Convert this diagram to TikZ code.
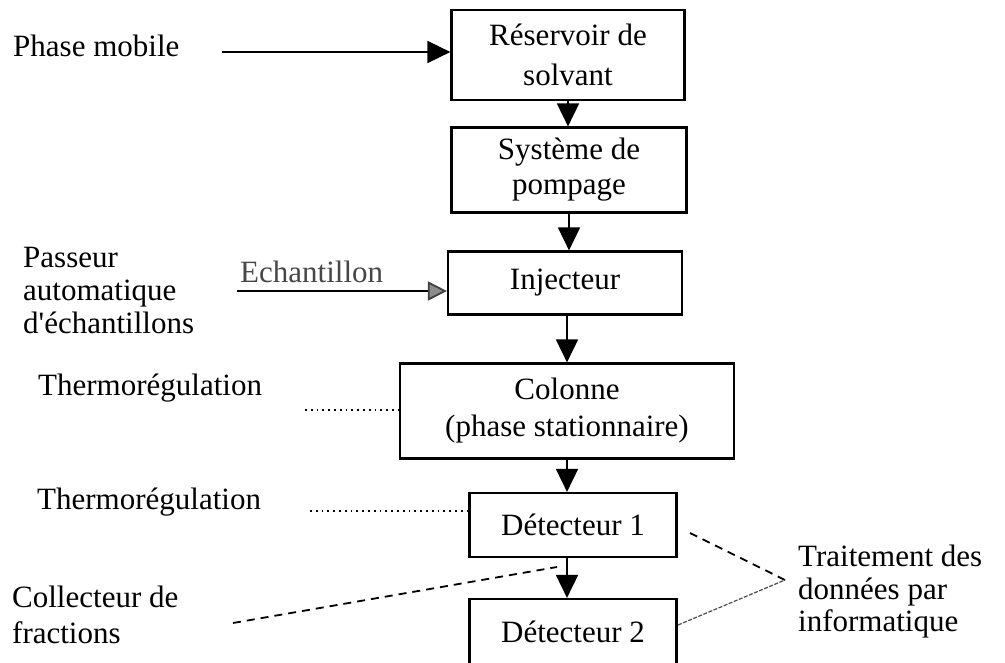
\documentclass[tikz,border=0pt]{standalone}
\usepackage{fontspec}
\setmainfont{Liberation Serif}[Ligatures=TeXOff]
\usetikzlibrary{arrows.meta}
\tikzset{
  every node/.style={font=\fontsize{31}{37}\selectfont, inner sep=0pt},
  box/.style={draw, line width=2.2pt, align=center},
  lbl/.style={anchor=west, align=left},
  arr/.style={line width=1.8pt, -{Triangle[length=23pt,width=22pt]}},
  grayarr/.style={line width=1.8pt, -{Triangle[length=19pt,width=19pt,color=black!75,fill=black!45]}},
  dotline/.style={line width=1.8pt, dash pattern=on 1.8pt off 4pt},
  dashline/.style={line width=1.8pt, dash pattern=on 8pt off 6pt},
  fineline/.style={line width=1.2pt, black!70, dash pattern=on 4pt off 1.5pt},
}
\begin{document}
\begin{tikzpicture}[x=1pt,y=-1pt]
\useasboundingbox (0,0) rectangle (1005,662);
\clip (0,0) rectangle (1005,662);

% boxes
\node[box, minimum width=233pt, minimum height=90pt, font=\fontsize{31}{40}\selectfont] (res) at (568,55) {Réservoir de\\solvant};
\node[box, minimum width=235pt, minimum height=85pt, font=\fontsize{31}{35}\selectfont] (sys) at (569,170) {Système de\\pompage};
\node[box, minimum width=234pt, minimum height=63pt] (inj) at (565,283) {Injecteur};
\node[box, minimum width=334pt, minimum height=95pt] (col) at (567,411) {Colonne\\(phase stationnaire)};
\node[box, minimum width=207pt, minimum height=64pt] (det1) at (573,525) {Détecteur 1};
\node[box, minimum width=207pt, minimum height=66pt] (det2) at (573,632) {Détecteur 2};

% side labels
\node[lbl] (pm) at (13,46) {Phase mobile};
\node[lbl, font=\fontsize{31}{33}\selectfont] (pass) at (23,290) {Passeur\\automatique\\d'échantillons};
\node[lbl, text=black!72] (ech) at (240,272) {Echantillon};
\node[lbl] (th1) at (38,388) {Thermorégulation};
\node[lbl] (th2) at (37,502) {Thermorégulation};
\node[lbl, font=\fontsize{31}{36}\selectfont] (coll) at (12,615) {Collecteur de\\fractions};
\node[lbl, font=\fontsize{31}{32.5}\selectfont] (trait) at (798,592) {Traitement des\\données par\\informatique};

% free ends
\coordinate (pmstart) at (222,52);
\coordinate (echstart) at (237,291);
\coordinate (t1start) at (305,410);
\coordinate (t2start) at (310,511);
\coordinate (collstart) at (233,623);
\coordinate (collend) at (557,567);
\coordinate (d1out) at (690,533);
\coordinate (d2out) at (678,625);
\coordinate (trt) at (785,580);

% main flow
\draw[arr] (pmstart) -- (pmstart -| res.west);
\draw[arr] (res.south) -- (sys.north -| res.south);
\draw[arr] (sys.north |- sys.south) -- (sys.north |- inj.north);
\draw[arr] (col.north |- inj.south) -- (col.north);
\draw[arr] (col.south) -- (col.south |- det1.north);
\draw[arr] (col.south |- det1.south) -- (col.south |- det2.north);
\draw[grayarr] (echstart) -- (echstart -| inj.west);

% thermoregulation links
\draw[dotline] (t1start) -- (t1start -| col.west);
\draw[dotline] (t2start) -- (t2start -| det1.west);

% fraction collector and data treatment
\draw[dashline] (collstart) -- (collend);
\draw[dashline] (d1out) -- (trt);
\draw[fineline] (d2out) -- (trt);
\end{tikzpicture}
\end{document}
